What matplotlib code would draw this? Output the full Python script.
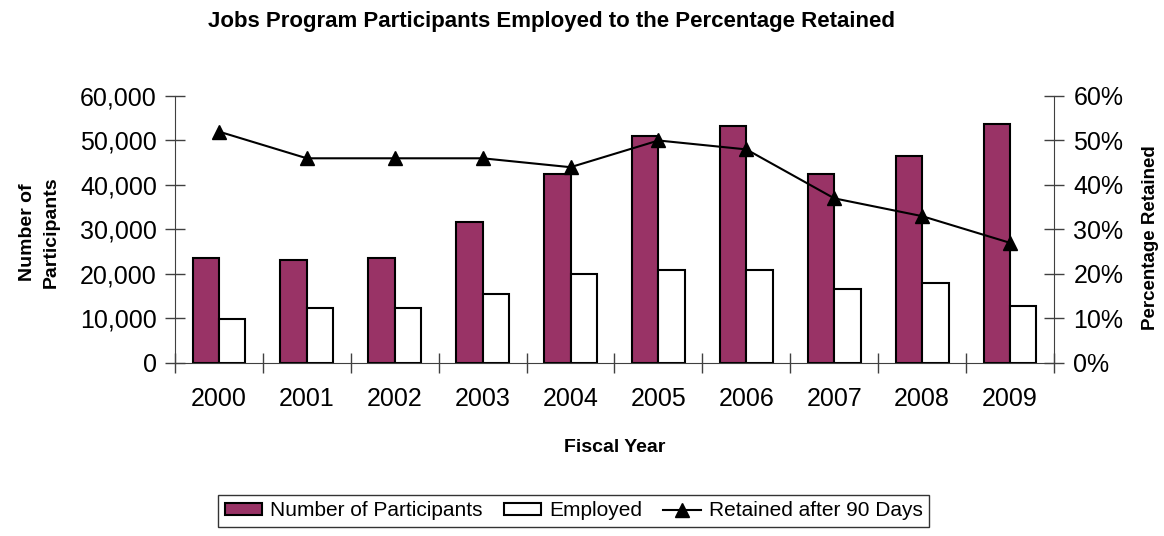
import numpy as np
import matplotlib.pyplot as plt
from matplotlib.ticker import FuncFormatter, PercentFormatter

plt.rcParams['font.family'] = ['Liberation Sans', 'DejaVu Sans']

# data
years = ['2000', '2001', '2002', '2003', '2004', '2005', '2006', '2007', '2008', '2009']
participants = [23500, 23200, 23500, 31700, 42500, 51000, 53200, 42500, 46500, 53700]
employed = [9900, 12400, 12400, 15600, 20100, 21000, 21000, 16600, 17900, 12900]
retained_pct = [52, 46, 46, 46, 44, 50, 48, 37, 33, 27]

plum = '#993366'
axcol = '#404040'

fig = plt.figure(figsize=(11.64, 5.36), dpi=100)
ax = fig.add_axes([0.1503, 0.3228, 0.7552, 0.4981])
ax2 = ax.twinx()

x = np.arange(len(years))
w = 0.30
b1 = ax.bar(x - w / 2, participants, w, color=plum, edgecolor='black', linewidth=1.5,
            label='Number of Participants', zorder=2)
b2 = ax.bar(x + w / 2, employed, w, color='white', edgecolor='black', linewidth=1.5,
            label='Employed', zorder=2)
ln, = ax2.plot(x, retained_pct, color='black', linewidth=1.5, marker='^', markersize=10,
               label='Retained after 90 Days')

ax.set_xlim(-0.5, len(years) - 0.5)
ax.set_ylim(0, 60000)
ax.set_yticks(np.arange(0, 60001, 10000))
ax.yaxis.set_major_formatter(FuncFormatter(lambda v, p: f'{int(v):,}'))
ax2.set_ylim(0, 60)
ax2.set_yticks(np.arange(0, 61, 10))
ax2.yaxis.set_major_formatter(PercentFormatter(decimals=0))

# Excel style: ticks between categories, labels under bars
ax.set_xticks(np.arange(-0.5, len(years), 1.0))
ax.set_xticklabels([])
ax.set_xticks(x, minor=True)
ax.set_xticklabels(years, minor=True)
ax.tick_params(axis='x', which='major', direction='inout', length=14, width=1, color=axcol)
ax.tick_params(axis='x', which='minor', length=0, labelsize=18, pad=17)
ax.tick_params(axis='y', direction='inout', length=14, width=1, color=axcol, labelsize=18, pad=6)
ax2.tick_params(axis='y', direction='inout', length=14, width=1, color=axcol, labelsize=18, pad=7)

for a in (ax, ax2):
    a.spines['top'].set_visible(False)
    for s in ('left', 'right', 'bottom'):
        a.spines[s].set_color(axcol)
ax2.spines['left'].set_visible(False)
ax2.spines['bottom'].set_visible(False)
ax.spines['right'].set_visible(False)

ax.set_xlabel('Fiscal Year', fontsize=14, fontweight='bold')
ax.xaxis.set_label_coords(0.5, -0.285)
ax.set_ylabel('Number of\nParticipants', fontsize=14, fontweight='bold', linespacing=1.5)
ax.yaxis.set_label_coords(-0.131, 0.49)
ax2.set_ylabel('Percentage Retained', fontsize=13.5, fontweight='bold')
ax2.yaxis.set_label_coords(1.100, 0.47)

fig.text(0.474, 0.96, 'Jobs Program Participants Employed to the Percentage Retained',
         fontsize=16, fontweight='bold', ha='center', va='center')

leg = fig.legend(handles=[b1, b2, ln], loc='center', bbox_to_anchor=(0.493, 0.047),
                 ncol=3, fontsize=15, frameon=True, fancybox=False, edgecolor='black',
                 handlelength=1.8, handleheight=0.5, handletextpad=0.4,
                 columnspacing=1.0, borderpad=0.3, borderaxespad=0)
leg.get_frame().set_linewidth(1.0)

fig.savefig('out.png', dpi=100)
